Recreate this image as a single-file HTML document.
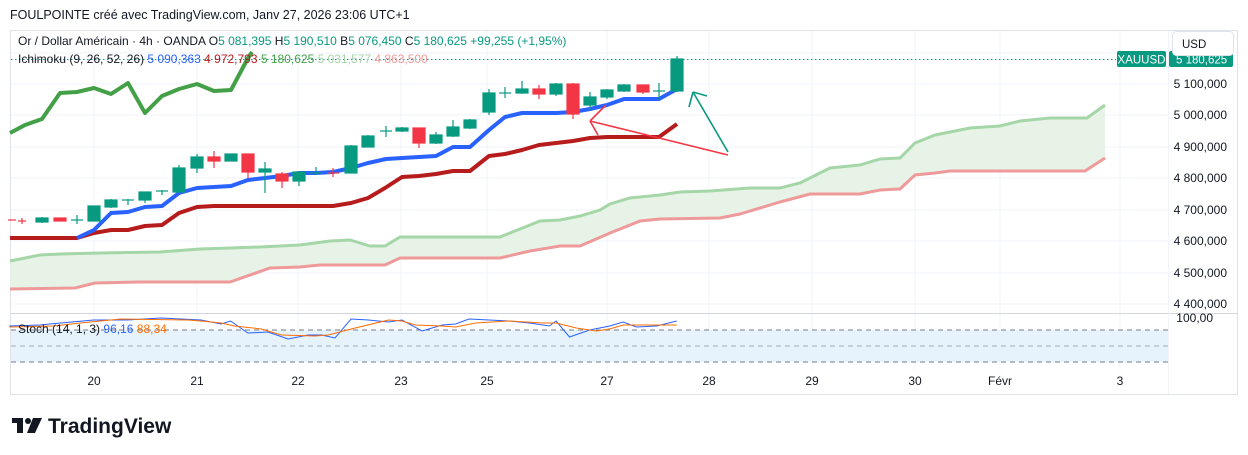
<!DOCTYPE html>
<html><head><meta charset="utf-8"><style>
html,body{margin:0;padding:0;background:#fff;width:1248px;height:455px;overflow:hidden}
svg{display:block;font-family:"Liberation Sans",sans-serif}
</style></head><body>
<svg width="1248" height="455" viewBox="0 0 1248 455" xmlns="http://www.w3.org/2000/svg">
<rect width="1248" height="455" fill="#fff"/>
<text x="10" y="19" font-size="12.5" fill="#131722">FOULPOINTE créé avec TradingView.com, Janv 27, 2026 23:06 UTC+1</text>
<rect x="10.5" y="30.5" width="1227" height="364" fill="none" stroke="#e0e3eb"/>
<!-- grid -->
<g stroke="#f0f3fa" stroke-width="1">
<line x1="11" x2="1168" y1="53" y2="53"/><line x1="11" x2="1168" y1="84" y2="84"/><line x1="11" x2="1168" y1="115" y2="115"/><line x1="11" x2="1168" y1="147" y2="147"/><line x1="11" x2="1168" y1="178" y2="178"/><line x1="11" x2="1168" y1="210" y2="210"/><line x1="11" x2="1168" y1="241" y2="241"/><line x1="11" x2="1168" y1="273" y2="273"/><line x1="11" x2="1168" y1="304" y2="304"/>
<line x1="94" x2="94" y1="31" y2="370"/><line x1="197" x2="197" y1="31" y2="370"/><line x1="298" x2="298" y1="31" y2="370"/><line x1="401" x2="401" y1="31" y2="370"/><line x1="487" x2="487" y1="31" y2="370"/><line x1="607" x2="607" y1="31" y2="370"/><line x1="709" x2="709" y1="31" y2="370"/><line x1="812" x2="812" y1="31" y2="370"/><line x1="915" x2="915" y1="31" y2="370"/><line x1="1000" x2="1000" y1="31" y2="370"/><line x1="1120" x2="1120" y1="31" y2="370"/>
</g>
<line x1="11" x2="1238" y1="313.5" y2="313.5" stroke="#d1d4dc"/>
<line x1="1168.5" x2="1168.5" y1="31" y2="394" stroke="#f0f3fa"/>
<!-- cloud -->
<polygon fill="#e8f3e7" points="10,261 40,255 60,254 100,253 160,252 200,249 230,248 260,247 300,245 330,241 350,240 370,246 385,246 400,237 500,237 520,229 540,221 560,220 580,216 600,210 610,204 630,198 660,195 680,192 710,191 750,188 780,188 800,183 830,168 860,165 880,159 900,158 915,143 935,135 970,128 1000,126 1020,121 1050,118 1087,118 1105,105 1105,158 1085,171 950,171 935,173 915,175 900,189 880,190 860,194 810,194 780,202 740,214 720,218 660,219 640,221 610,233 580,246 560,246 530,251 500,258 400,258 385,265 320,265 300,267 270,268 230,282 140,282 95,283 75,288 10,289"/>
<polyline fill="none" stroke="#a5d6a7" stroke-width="3" points="10,261 40,255 60,254 100,253 160,252 200,249 230,248 260,247 300,245 330,241 350,240 370,246 385,246 400,237 500,237 520,229 540,221 560,220 580,216 600,210 610,204 630,198 660,195 680,192 710,191 750,188 780,188 800,183 830,168 860,165 880,159 900,158 915,143 935,135 970,128 1000,126 1020,121 1050,118 1087,118 1105,105"/>
<polyline fill="none" stroke="#ef9a9a" stroke-width="3" points="10,289 75,288 95,283 140,282 230,282 270,268 300,267 320,265 385,265 400,258 500,258 530,251 560,246 580,246 610,233 640,221 660,219 720,218 740,214 780,202 810,194 860,194 880,190 900,189 915,175 935,173 950,171 1085,171 1105,158"/>
<!-- chikou -->
<polyline fill="none" stroke="#43a047" stroke-width="4" stroke-linejoin="round" points="10,133 25,125 42,119 60,93 77,92 94,88 111,94 128,83 145,113 162,96 179,89 197,84 214,91 231,90 248,58 252,52"/>
<!-- kijun -->
<polyline fill="none" stroke="#b71c1c" stroke-width="4" stroke-linejoin="round" points="10,238 77,238 94,233 111,230 128,230 145,226 162,225 179,213 197,207 214,206 333,206 351,203 368,198 385,188 402,177 419,176 436,174 453,171 470,171 489,156 505,154 522,150 539,145 556,143 573,141 590,138 607,137 659,137 677,124"/>
<!-- tenkan -->
<polyline fill="none" stroke="#2962ff" stroke-width="4" stroke-linejoin="round" points="77,238 94,230 111,213 128,212 145,207 162,206 179,193 197,188 214,187 231,186 248,180 265,178 282,176 299,173 316,173 333,172 351,168 368,163 386,159 402,158 419,157 436,156 453,147 470,147 489,130 505,117 522,113 556,113 573,112 590,109 607,105 624,99 659,99 677,89"/>
<!-- candles -->
<g stroke-width="1.2">
<g stroke="#f23645" fill="#f23645">
<line x1="8" x2="16" y1="220" y2="220"/><line x1="18" x2="26" y1="221" y2="221"/><line x1="22" x2="22" y1="218" y2="224"/>
<rect x="54" y="218" width="12" height="3"/>
<line x1="214" x2="214" y1="151" y2="168"/><rect x="208" y="157" width="12" height="4"/>
<line x1="248" x2="248" y1="154" y2="178"/><rect x="242" y="154" width="12" height="18"/>
<line x1="282" x2="282" y1="172" y2="188"/><rect x="276" y="174" width="12" height="7"/>
<line x1="327" x2="339" y1="173" y2="173"/><line x1="333" x2="333" y1="168" y2="177"/>
<line x1="419" x2="419" y1="128" y2="148"/><rect x="413" y="128" width="12" height="15"/>
<line x1="539" x2="539" y1="85" y2="99"/><rect x="533" y="89" width="12" height="5"/>
<line x1="573" x2="573" y1="83" y2="119"/><rect x="567" y="84" width="12" height="30"/>
<line x1="643" x2="643" y1="85" y2="94"/><rect x="637" y="85" width="12" height="7"/>
</g>
<g stroke="#089981" fill="#089981">
<line x1="42" x2="42" y1="217" y2="223"/><rect x="36" y="218" width="12" height="4"/>
<line x1="71" x2="83" y1="220" y2="220"/><line x1="77" x2="77" y1="215" y2="224"/>
<rect x="88" y="206" width="12" height="15"/>
<line x1="111" x2="111" y1="199" y2="208"/><rect x="105" y="200" width="12" height="7"/>
<line x1="122" x2="134" y1="200" y2="200"/><line x1="128" x2="128" y1="199" y2="205"/>
<line x1="145" x2="145" y1="192" y2="203"/><rect x="139" y="192" width="12" height="8"/>
<line x1="156" x2="168" y1="191" y2="191"/><line x1="162" x2="162" y1="190" y2="195"/>
<line x1="179" x2="179" y1="165" y2="192"/><rect x="173" y="168" width="12" height="24"/>
<line x1="197" x2="197" y1="154" y2="173"/><rect x="191" y="157" width="12" height="11"/>
<line x1="231" x2="231" y1="154" y2="161"/><rect x="225" y="154" width="12" height="7"/>
<line x1="265" x2="265" y1="162" y2="193"/><rect x="259" y="169" width="12" height="3"/>
<line x1="299" x2="299" y1="172" y2="186"/><rect x="293" y="172" width="12" height="9"/>
<line x1="310" x2="322" y1="173" y2="173"/><line x1="316" x2="316" y1="167" y2="175"/>
<line x1="351" x2="351" y1="145" y2="173"/><rect x="345" y="146" width="12" height="27"/>
<line x1="368" x2="368" y1="135" y2="147"/><rect x="362" y="136" width="12" height="11"/>
<line x1="380" x2="392" y1="131" y2="131"/><line x1="386" x2="386" y1="126" y2="137"/>
<line x1="402" x2="402" y1="127" y2="132"/><rect x="396" y="128" width="12" height="3"/>
<line x1="436" x2="436" y1="132" y2="144"/><rect x="430" y="135" width="12" height="8"/>
<line x1="453" x2="453" y1="120" y2="137"/><rect x="447" y="127" width="12" height="9"/>
<line x1="470" x2="470" y1="119" y2="129"/><rect x="464" y="120" width="12" height="8"/>
<line x1="489" x2="489" y1="89" y2="115"/><rect x="483" y="93" width="12" height="19"/>
<line x1="499" x2="511" y1="93" y2="93"/><line x1="505" x2="505" y1="87" y2="98"/>
<line x1="522" x2="522" y1="81" y2="94"/><rect x="516" y="89" width="12" height="4"/>
<line x1="556" x2="556" y1="83" y2="96"/><rect x="550" y="84" width="12" height="10"/>
<line x1="590" x2="590" y1="92" y2="110"/><rect x="584" y="97" width="12" height="8"/>
<line x1="607" x2="607" y1="89" y2="99"/><rect x="601" y="90" width="12" height="7"/>
<line x1="624" x2="624" y1="84" y2="92"/><rect x="618" y="85" width="12" height="6"/>
<line x1="653" x2="665" y1="91" y2="91"/><line x1="659" x2="659" y1="83" y2="100"/>
<line x1="677" x2="677" y1="56" y2="92"/><rect x="671" y="59" width="12" height="32"/>
</g>
</g>
<!-- arrows -->
<g fill="none" stroke="#f23645" stroke-width="1.6">
<line x1="728" y1="155" x2="590" y2="121"/><line x1="590" y1="121" x2="606" y2="105"/><line x1="590" y1="121" x2="598" y2="135"/>
</g>
<g fill="none" stroke="#089981" stroke-width="1.6">
<line x1="728" y1="152" x2="693" y2="92"/><line x1="693" y1="92" x2="707" y2="96"/><line x1="693" y1="92" x2="689" y2="107"/>
</g>
<!-- price line -->
<line x1="11" x2="1116" y1="59.5" y2="59.5" stroke="#089981" stroke-dasharray="1.5,2.5"/>
<rect x="1117" y="51" width="49" height="16" rx="2" fill="#089981"/>
<text x="1141.5" y="63.5" font-size="11.5" fill="#fff" text-anchor="middle">XAUUSD</text>
<rect x="1169" y="51" width="64" height="16" rx="2" fill="#089981"/>
<text x="1176" y="63.5" font-size="11.5" fill="#fff">5 180,625</text>
<rect x="1172.5" y="31.5" width="61" height="24" rx="4" fill="#fff" stroke="#e0e3eb"/>
<text x="1182" y="48" font-size="11.5" fill="#131722">USD</text>
<!-- axis labels -->
<g font-size="12" fill="#131722" text-anchor="end">
<text x="1227" y="88">5 100,000</text><text x="1227" y="119">5 000,000</text><text x="1227" y="151">4 900,000</text><text x="1227" y="182">4 800,000</text><text x="1227" y="214">4 700,000</text><text x="1227" y="245">4 600,000</text><text x="1227" y="277">4 500,000</text><text x="1227" y="308">4 400,000</text><text x="1213" y="322">100,00</text>
</g>
<!-- legend -->
<rect x="16" y="33" width="560" height="15" fill="#fff" opacity="0.85"/>
<text x="18" y="45" font-size="12" fill="#131722">Or / Dollar Américain · 4h · OANDA <tspan>O</tspan><tspan fill="#089981">5 081,395</tspan>  H<tspan fill="#089981">5 190,510</tspan>  B<tspan fill="#089981">5 076,450</tspan>  C<tspan fill="#089981">5 180,625  +99,255 (+1,95%)</tspan></text>
<text x="18" y="63" font-size="12" fill="#131722">Ichimoku (9, 26, 52, 26) <tspan fill="#2962ff">5 090,363</tspan> <tspan fill="#b71c1c">4 972,793</tspan> <tspan fill="#43a047">5 180,625</tspan> <tspan fill="#a5d6a7">5 031,577</tspan> <tspan fill="#ef9a9a">4 863,500</tspan></text>
<!-- stoch -->
<rect x="11" y="330" width="1157" height="32" fill="#e3f2fd" opacity="0.9"/>
<g stroke="#787b86" stroke-dasharray="5,4" stroke-width="1">
<line x1="11" x2="1168" y1="330" y2="330"/><line x1="11" x2="1168" y1="346" y2="346" stroke-opacity="0.6"/><line x1="11" x2="1168" y1="362" y2="362"/>
</g>
<g transform="scale(1.34,1)">
<polyline fill="none" stroke="#2962ff" stroke-width="1" vector-effect="non-scaling-stroke" points="7,326 30,325 37,324 70,320 95,320 120,318 150,320 165,324 172,321 185,333 200,332 215,339 230,335 240,335 250,338 262,319 275,320 290,322 300,320 315,331 330,325 340,324 350,319 365,320 380,321 395,323 410,326 415,321 425,337 440,330 455,326 465,322 475,327 490,326 505,321"/>
<polyline fill="none" stroke="#ff6d00" stroke-width="1" vector-effect="non-scaling-stroke" points="7,327 40,326 60,323 90,319 140,320 150,321 165,323 175,326 195,329 210,335 235,336 245,335 265,328 290,320 300,321 310,325 330,326 340,327 355,323 380,321 405,323 415,323 430,328 445,331 455,329 465,325 490,325 505,325"/>
</g>
<text x="18" y="333" font-size="12" fill="#131722">Stoch (14, 1, 3) <tspan fill="#2962ff">96,16</tspan> <tspan fill="#ff6d00">88,34</tspan></text>
<!-- time labels -->
<g font-size="12" fill="#131722" text-anchor="middle">
<text x="94" y="385">20</text><text x="197" y="385">21</text><text x="298" y="385">22</text><text x="401" y="385">23</text><text x="487" y="385">25</text><text x="607" y="385">27</text><text x="709" y="385">28</text><text x="812" y="385">29</text><text x="915" y="385">30</text><text x="1000" y="385">Févr</text><text x="1120" y="385">3</text>
</g>
<!-- logo -->
<g fill="#131722">
<rect x="12" y="418" width="11" height="5"/><rect x="17" y="418" width="6" height="15"/><circle cx="28" cy="421" r="3"/><polygon points="33,418 42,418 35,433 27,433"/>
</g>
<text x="48" y="433" font-size="21" font-weight="bold" fill="#131722">TradingView</text>
</svg>
</body></html>
